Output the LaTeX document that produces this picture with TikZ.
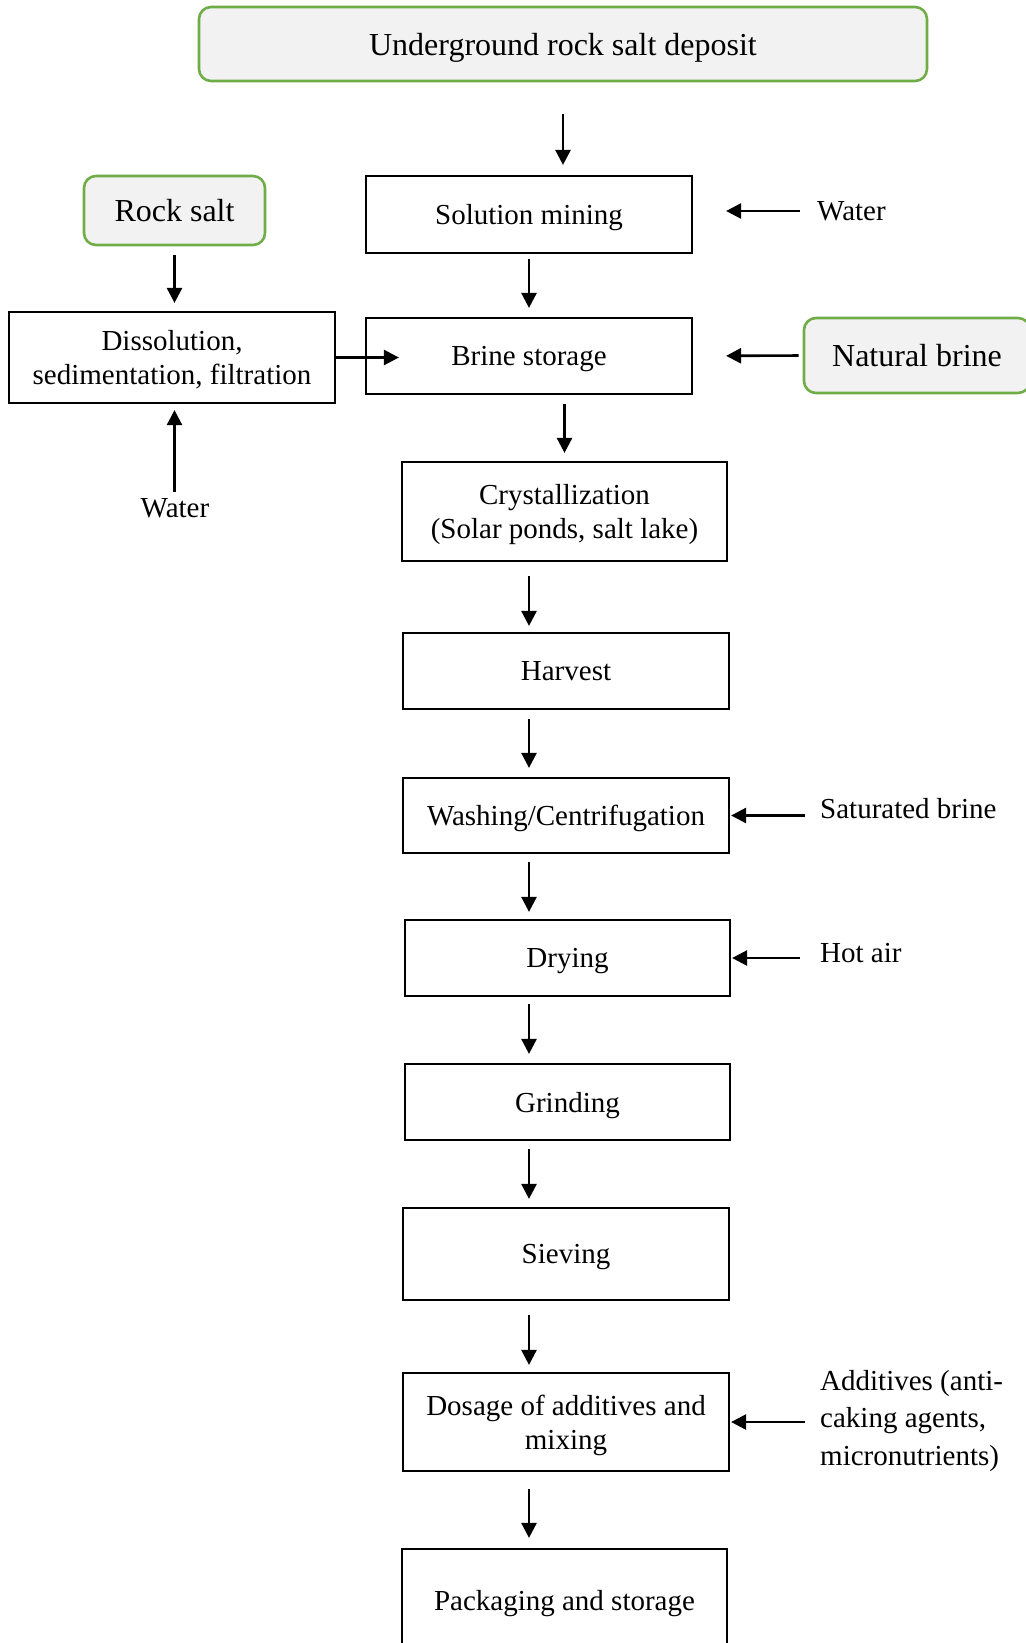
\documentclass[tikz,border=0pt]{standalone}
\usepackage{fontspec}
\setmainfont{Liberation Serif}
\usetikzlibrary{arrows.meta}
\definecolor{leafgreen}{HTML}{70AD47}
\definecolor{palegray}{HTML}{F2F2F2}
\begin{document}
\begin{tikzpicture}[x=1pt,y=-1pt,
  procbox/.style={draw=black, line width=2.2pt, inner sep=0pt, align=center,
    text depth=0pt, font=\fontsize{29}{34}\selectfont},
  sourcebox/.style={draw=leafgreen, fill=palegray, line width=2.6pt,
    rounded corners=12pt, inner sep=0pt, align=center, text depth=0pt,
    font=\fontsize{32}{38}\selectfont},
  sidetext/.style={inner sep=0pt, align=left, font=\fontsize{29}{37.5}\selectfont},
  flow/.style={-{Triangle[length=15pt,width=15pt]}, line width=2.6pt},
]
\fill[white] (0,0) rectangle (1025,1643);
\useasboundingbox (0,0) rectangle (1025,1643);

% raw material sources
\node[sourcebox, minimum width=728pt, minimum height=74pt] (deposit) at (563,44) {Underground rock salt deposit};
\node[sourcebox, minimum width=181pt, minimum height=69pt] (rock) at (174.5,210.5) {Rock salt};
\node[sourcebox, minimum width=226pt, minimum height=75pt] (natural) at (917,355.5) {Natural brine};

% process steps
\node[procbox, minimum width=326pt, minimum height=77pt] (mining) at (529,214.5) {Solution mining};
\node[procbox, minimum width=326pt, minimum height=91pt] (dissolve) at (172,357.5) {Dissolution,\\sedimentation, filtration};
\node[procbox, minimum width=326pt, minimum height=76pt] (storage) at (529,356) {Brine storage};
\node[procbox, minimum width=325pt, minimum height=99pt] (cryst) at (564.5,511.5) {Crystallization\\(Solar ponds, salt lake)};
\node[procbox, minimum width=326pt, minimum height=76pt] (harvest) at (566,671) {Harvest};
\node[procbox, minimum width=326pt, minimum height=75pt] (washing) at (566,815.5) {Washing/Centrifugation};
\node[procbox, minimum width=325pt, minimum height=76pt] (drying) at (567.5,958) {Drying};
\node[procbox, minimum width=325pt, minimum height=76pt] (grinding) at (567.5,1102) {Grinding};
\node[procbox, minimum width=326pt, minimum height=92pt] (sieving) at (566,1254) {Sieving};
\node[procbox, minimum width=326pt, minimum height=98pt] (dosage) at (566,1422) {Dosage of additives and\\mixing};
\node[procbox, minimum width=325pt, minimum height=102pt] (packing) at (564.5,1600) {Packaging and storage};

% side inputs
\node[sidetext, anchor=west] (waterA) at (817,211) {Water};
\node[sidetext] (waterB) at (175,508) {Water};
\node[sidetext, anchor=west] (satbrine) at (820,809) {Saturated brine};
\node[sidetext, anchor=west] (hotair) at (820,953) {Hot air};
\node[sidetext, anchor=west] (additives) at (820,1421) {Additives (anti-\\caking agents,\\micronutrients)};

% main flow
\draw[flow, shorten <=32pt, shorten >=10pt] (deposit.south) -- (deposit.south |- mining.north);
\draw[flow, shorten <=5pt, shorten >=9pt] (mining.south) -- (storage.north);
\draw[flow, shorten <=9pt, shorten >=8pt] (cryst.north |- storage.south) -- (cryst.north);
\draw[flow, shorten <=14pt, shorten >=6pt] (cryst.south -| mining.south) -- (harvest.north -| mining.south);
\draw[flow, shorten <=9pt, shorten >=9pt] (harvest.south -| mining.south) -- (washing.north -| mining.south);
\draw[flow, shorten <=8pt, shorten >=7pt] (washing.south -| mining.south) -- (drying.north -| mining.south);
\draw[flow, shorten <=7pt, shorten >=9pt] (drying.south -| mining.south) -- (grinding.north -| mining.south);
\draw[flow, shorten <=8pt, shorten >=8pt] (grinding.south -| mining.south) -- (sieving.north -| mining.south);
\draw[flow, shorten <=14pt, shorten >=7pt] (sieving.south -| mining.south) -- (dosage.north -| mining.south);
\draw[flow, shorten <=17pt, shorten >=10pt] (dosage.south -| mining.south) -- (packing.north -| mining.south);

% rock salt branch
\draw[flow, shorten <=9pt, shorten >=8pt] (rock.south) -- (rock.south |- dissolve.north);
\draw[flow, shorten >=-34pt] (dissolve.east) -- (dissolve.east -| storage.west);
\draw[flow, shorten <=6pt, shorten >=6pt] (waterB.north -| rock.south) -- (dissolve.south -| rock.south);

% side inputs into the main line
\draw[flow, shorten <=17pt, shorten >=33pt] (waterA.west) -- (waterA.west -| mining.east);
\draw[flow, shorten <=4pt, shorten >=33pt] (natural.west) -- (storage.east);
\draw[flow, shorten <=15pt, shorten >=1pt] (satbrine.west |- washing.east) -- (washing.east);
\draw[flow, shorten <=20pt, shorten >=1pt] (hotair.west |- drying.east) -- (drying.east);
\draw[flow, shorten <=15pt, shorten >=1pt] (additives.west |- dosage.east) -- (dosage.east);
\end{tikzpicture}
\end{document}
